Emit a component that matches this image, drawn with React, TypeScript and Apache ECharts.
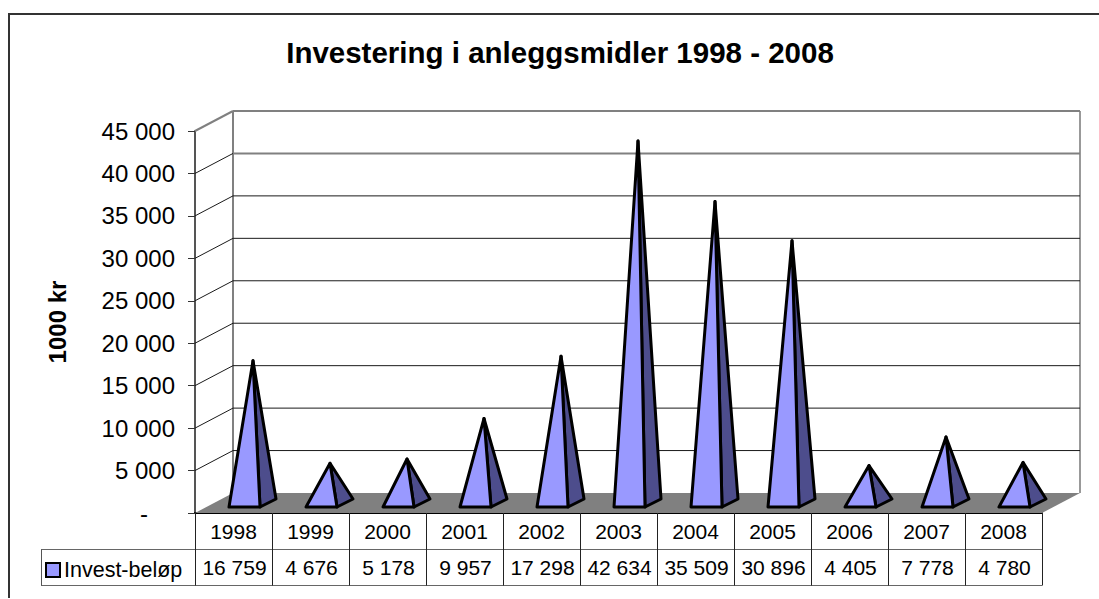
import React, { useEffect, useRef } from "react";
import * as echarts from "echarts";

const years = ["1998", "1999", "2000", "2001", "2002", "2003", "2004", "2005", "2006", "2007", "2008"];
const investValues = [16759, 4676, 5178, 9957, 17298, 42634, 35509, 30896, 4405, 7778, 4780];
const wallTicks = [5000, 10000, 15000, 20000, 25000, 30000, 35000, 40000, 45000];
const seriesName = "Invest-beløp";
const titleText = "Investering i anleggsmidler 1998 - 2008";
const axisName = "1000 kr";

const FONT = '"Liberation Sans", Arial, sans-serif';
const DEPTH_X = 38;
const DEPTH_Y = -20;
const BASE_HALF = 15.5;
const BASE_DX = 8;
const BASE_DY = 4;
const fmt = (v: number) => String(v).replace(/\B(?=(\d{3})+$)/g, " ");

export default function App() {
  const ref = useRef<HTMLDivElement>(null);
  useEffect(() => {
    document.body.style.margin = "0";
    const chart = echarts.init(ref.current!, null, { renderer: "svg" });

    const hline = (x1: number, y1: number, x2: number, y2: number, stroke: string, lineWidth: number) => ({
      type: "line",
      shape: { x1, y1, x2, y2 },
      style: { stroke, lineWidth },
      silent: true,
    });

    chart.setOption({
      animation: false,
      backgroundColor: "#ffffff",
      textStyle: { fontFamily: FONT },
      title: {
        text: titleText,
        left: 555,
        top: 32,
        textAlign: "center",
        textStyle: { fontFamily: FONT, fontSize: 29.5, fontWeight: "bold", color: "#000" },
      },
      legend: {
        data: [seriesName],
        left: 45,
        top: 559,
        padding: 0,
        icon: "rect",
        itemWidth: 14,
        itemHeight: 14,
        selectedMode: false,
        itemStyle: { color: "#9999ff", borderColor: "#000", borderWidth: 2 },
        textStyle: { fontFamily: FONT, fontSize: 21.5, color: "#000", padding: [0, 0, 0, -1] },
      },
      grid: { left: 195, top: 131, width: 847, height: 382, containLabel: false },
      xAxis: {
        type: "category",
        data: years,
        axisLine: { show: true, lineStyle: { color: "#000", width: 2 } },
        axisTick: { show: true, length: 72.5, interval: 0, lineStyle: { color: "#222", width: 1 } },
        axisLabel: { fontFamily: FONT, fontSize: 21, color: "#000", margin: 8, interval: 0 },
        splitLine: { show: false },
      },
      yAxis: {
        type: "value",
        min: 0,
        max: 45000,
        interval: 5000,
        name: axisName,
        nameLocation: "middle",
        nameGap: 126,
        nameRotate: 90,
        nameTextStyle: { fontFamily: FONT, fontSize: 24, fontWeight: "bold", color: "#000" },
        axisLine: { show: true, lineStyle: { color: "#555", width: 2 } },
        axisTick: { show: true, length: 7, lineStyle: { color: "#333", width: 1 } },
        axisLabel: {
          fontFamily: FONT,
          fontSize: 24,
          color: "#000",
          margin: 20,
          formatter: (v: number) => (v === 0 ? "{dash|-}" : fmt(v)),
          rich: { dash: { fontFamily: FONT, fontSize: 24, color: "#000", padding: [0, 27, 0, 0] } },
        },
        splitLine: { show: false },
      },
      graphic: [
        hline(9, 14, 1099, 14, "#333", 2),
        hline(9, 13, 9, 598, "#333", 2),
        hline(41, 549.5, 1042, 549.5, "#666", 1),
        hline(41, 585.5, 1042, 585.5, "#666", 1),
        hline(41.5, 549.5, 41.5, 585.5, "#555", 1),
      ],
      series: [
        {
          type: "custom",
          name: "floor",
          z: 1,
          silent: true,
          data: [[0, 0]],
          encode: { x: 0, y: 1 },
          renderItem: (params: any, api: any) => {
            const cs = params.coordSys;
            const y0 = api.coord([0, 0])[1];
            const yTop = api.coord([0, 45000])[1];
            const L = cs.x;
            const R = cs.x + cs.width;
            return {
              type: "group",
              children: [
                {
                  type: "polygon",
                  shape: {
                    points: [
                      [L, y0],
                      [L + DEPTH_X, y0 + DEPTH_Y],
                      [R + DEPTH_X, y0 + DEPTH_Y],
                      [R, y0],
                    ],
                  },
                  style: { fill: "#808080", stroke: "none" },
                },
                {
                  type: "line",
                  shape: { x1: L + DEPTH_X, y1: yTop + DEPTH_Y, x2: L + DEPTH_X, y2: y0 + DEPTH_Y },
                  style: { stroke: "#808080", lineWidth: 2 },
                },
                {
                  type: "line",
                  shape: { x1: R + DEPTH_X, y1: yTop + DEPTH_Y, x2: R + DEPTH_X, y2: y0 + DEPTH_Y },
                  style: { stroke: "#999999", lineWidth: 2 },
                },
              ],
            };
          },
        },
        {
          type: "custom",
          name: "walls",
          z: 2,
          silent: true,
          data: wallTicks.map((t) => [0, t]),
          encode: { x: 0, y: 1 },
          renderItem: (params: any, api: any) => {
            const cs = params.coordSys;
            const t = api.value(1) as number;
            const y = api.coord([0, t])[1];
            const L = cs.x;
            const R = cs.x + cs.width;
            const strong = t === 45000 || t === 40000;
            return {
              type: "group",
              children: [
                {
                  type: "line",
                  shape: { x1: L + DEPTH_X, y1: y + DEPTH_Y, x2: R + DEPTH_X, y2: y + DEPTH_Y },
                  style: { stroke: strong ? "#808080" : "#1a1a1a", lineWidth: strong ? 2 : 1 },
                },
                {
                  type: "line",
                  shape: { x1: L, y1: y, x2: L + DEPTH_X, y2: y + DEPTH_Y },
                  style: { stroke: t === 45000 ? "#808080" : "#1a1a1a", lineWidth: t === 45000 ? 2 : 1 },
                },
              ],
            };
          },
        },
        {
          type: "custom",
          name: seriesName,
          z: 5,
          silent: true,
          itemStyle: { color: "#9999ff" },
          data: investValues.map((v, i) => [i, v]),
          encode: { x: 0, y: 1 },
          renderItem: (_params: any, api: any) => {
            const i = api.value(0) as number;
            const v = api.value(1) as number;
            const base = api.coord([i, 0]);
            const top = api.coord([i, v]);
            const cx = base[0] + DEPTH_X / 2;
            const cy = base[1] + DEPTH_Y / 2;
            const apex = [cx + 0.5, top[1] + DEPTH_Y / 2];
            const fl = [cx - BASE_DX - BASE_HALF, cy + BASE_DY];
            const fr = [cx - BASE_DX + BASE_HALF, cy + BASE_DY];
            const br = [cx + BASE_DX + BASE_HALF, cy - BASE_DY];
            const lineStyle = { stroke: "#000", lineWidth: 3, lineJoin: "round" };
            return {
              type: "group",
              children: [
                { type: "polygon", shape: { points: [fr, br, apex] }, style: { fill: "#4d4d8c", ...lineStyle } },
                { type: "polygon", shape: { points: [fl, fr, apex] }, style: { fill: "#9999ff", ...lineStyle } },
              ],
            };
          },
        },
        {
          type: "custom",
          name: "table",
          z: 6,
          silent: true,
          data: investValues.map((v, i) => [i, v]),
          encode: { x: 0, y: 1 },
          renderItem: (params: any, api: any) => {
            const i = api.value(0) as number;
            const v = api.value(1) as number;
            const x = api.coord([i, 0])[0];
            return {
              type: "text",
              style: {
                text: fmt(v),
                x: x + 1,
                y: params.coordSys.y + params.coordSys.height + 54,
                textAlign: "center",
                textVerticalAlign: "middle",
                font: `21px ${FONT}`,
                fill: "#000",
              },
            };
          },
        },
      ],
    });
    return () => chart.dispose();
  }, []);
  return <div ref={ref} style={{ width: 1099, height: 599 }} />;
}
